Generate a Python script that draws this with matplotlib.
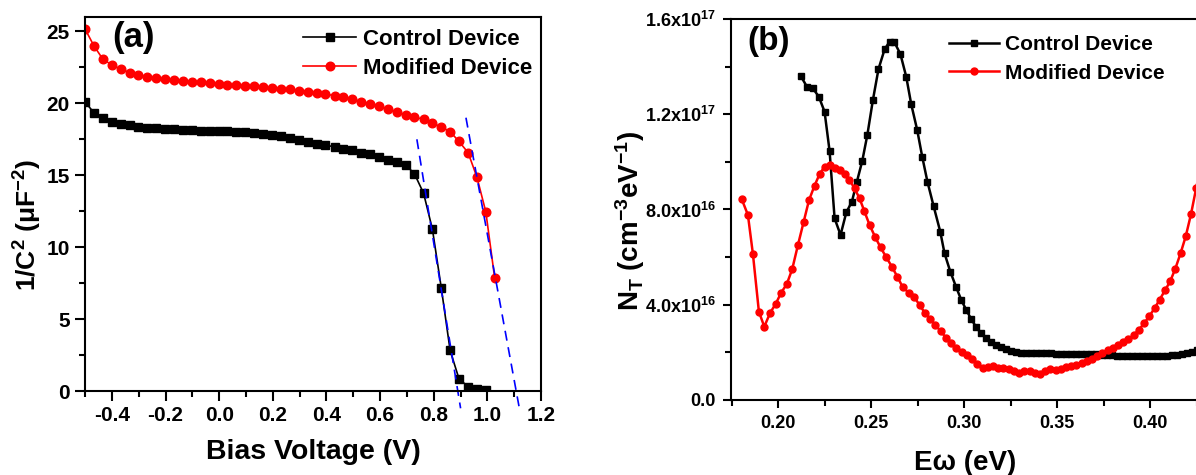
import matplotlib
matplotlib.use('Agg')
import matplotlib.pyplot as plt
from matplotlib.ticker import MultipleLocator

plt.rcParams['font.family'] = ['Liberation Sans', 'DejaVu Sans']
plt.rcParams['font.weight'] = 'bold'
plt.rcParams['axes.unicode_minus'] = False
plt.rcParams['mathtext.fontset'] = 'custom'
plt.rcParams['mathtext.rm'] = 'Liberation Sans:bold'
plt.rcParams['mathtext.it'] = 'Liberation Sans:bold'
plt.rcParams['mathtext.bf'] = 'Liberation Sans:bold'

# ---- panel (a): Mott-Schottky, 1/C^2 vs bias ----
bias_ctrl = [-0.500, -0.467, -0.434, -0.400, -0.367, -0.334, -0.301, -0.268, -0.234, -0.201,
             -0.168, -0.135, -0.102, -0.068, -0.035, -0.002, 0.031, 0.064, 0.098, 0.131,
             0.164, 0.197, 0.230, 0.264, 0.297, 0.330, 0.363, 0.396, 0.430, 0.463,
             0.496, 0.529, 0.562, 0.596, 0.629, 0.662, 0.695, 0.728, 0.762, 0.795,
             0.828, 0.861, 0.894, 0.928, 0.961, 0.994]
invc2_ctrl = [20.1, 19.35, 18.95, 18.72, 18.55, 18.46, 18.37, 18.3, 18.25, 18.23,
              18.18, 18.16, 18.13, 18.11, 18.09, 18.07, 18.05, 18.04, 18.02, 17.95,
              17.88, 17.81, 17.72, 17.6, 17.48, 17.34, 17.2, 17.1, 16.97, 16.85,
              16.74, 16.57, 16.46, 16.27, 16.08, 15.9, 15.73, 15.1, 13.75, 11.24,
              7.17, 2.82, 0.85, 0.3, 0.12, 0.04]

bias_mod = bias_ctrl + [1.027]
invc2_mod = [25.17, 24.0, 23.08, 22.66, 22.38, 22.14, 21.98, 21.86, 21.75, 21.68,
             21.63, 21.56, 21.49, 21.45, 21.4, 21.35, 21.28, 21.24, 21.21, 21.17,
             21.1, 21.05, 21.0, 20.98, 20.89, 20.82, 20.7, 20.63, 20.54, 20.42,
             20.3, 20.12, 19.95, 19.8, 19.6, 19.4, 19.2, 19.05, 18.88, 18.62,
             18.35, 18.03, 17.35, 16.57, 14.86, 12.46, 7.87]

# linear fits (end points)
fit_ctrl_x = [0.737, 0.900]
fit_ctrl_y = [17.5, -1.2]
fit_mod_x = [0.920, 1.122]
fit_mod_y = [19.0, -1.5]

# ---- panel (b): trap density of states ----
e_ctrl = [0.2121, 0.2155, 0.2187, 0.2219, 0.2250, 0.2277, 0.2304, 0.2336, 0.2367, 0.2397,
          0.2424, 0.2453, 0.2480, 0.2510, 0.2540, 0.2573, 0.2600, 0.2626, 0.2658, 0.2689,
          0.2716, 0.2748, 0.2775, 0.2803, 0.2836, 0.2872, 0.2895, 0.2926, 0.2958, 0.2985,
          0.3012, 0.3039, 0.3066, 0.3092, 0.3119, 0.3146, 0.3173, 0.3200, 0.3227, 0.3253,
          0.3280, 0.3307, 0.3334, 0.3361, 0.3388, 0.3415, 0.3442, 0.3469, 0.3496, 0.3523,
          0.3550, 0.3577, 0.3604, 0.3631, 0.3658, 0.3685, 0.3712, 0.3739, 0.3766, 0.3793,
          0.3820, 0.3847, 0.3874, 0.3901, 0.3928, 0.3955, 0.3982, 0.4009, 0.4036, 0.4063,
          0.4090, 0.4117, 0.4144, 0.4171, 0.4198, 0.4225, 0.4252, 0.4279]
nt_ctrl = [13.62, 13.16, 13.09, 12.74, 12.11, 10.46, 7.63, 6.93, 7.88, 8.33,
           9.17, 10.05, 11.13, 12.6, 13.9, 14.73, 15.05, 15.02, 14.52, 13.58,
           12.42, 11.34, 10.22, 9.17, 8.15, 7.07, 6.16, 5.39, 4.73, 4.2,
           3.78, 3.39, 3.05, 2.8, 2.59, 2.45, 2.31, 2.21, 2.13, 2.07,
           2.03, 1.99, 1.97, 1.97, 1.97, 1.96, 1.96, 1.96, 1.95, 1.95,
           1.95, 1.94, 1.94, 1.93, 1.93, 1.92, 1.92, 1.91, 1.90, 1.88,
           1.86, 1.85, 1.84, 1.83, 1.83, 1.83, 1.83, 1.84, 1.84, 1.85,
           1.86, 1.88, 1.90, 1.93, 1.97, 2.02, 2.08, 2.13]  # x1e16

e_mod = [0.1805, 0.1838, 0.1865, 0.1897, 0.1926, 0.1958, 0.1987, 0.2017, 0.2047, 0.2076,
         0.2107, 0.2137, 0.2166, 0.2196, 0.2223, 0.2250, 0.2277, 0.2304, 0.2331, 0.2358,
         0.2384, 0.2411, 0.2438, 0.2463, 0.2492, 0.2523, 0.2551, 0.2582, 0.2612, 0.2641,
         0.2671, 0.2702, 0.2730, 0.2761, 0.2790, 0.2818, 0.2846, 0.2875, 0.2903, 0.2931,
         0.2959, 0.2988, 0.3016, 0.3044, 0.3072, 0.3100, 0.3128, 0.3156, 0.3184, 0.3212,
         0.3240, 0.3268, 0.3296, 0.3324, 0.3352, 0.3380, 0.3408, 0.3436, 0.3464, 0.3492,
         0.3520, 0.3548, 0.3576, 0.3604, 0.3632, 0.3660, 0.3688, 0.3716, 0.3744, 0.3772,
         0.3800, 0.3828, 0.3856, 0.3884, 0.3912, 0.3940, 0.3968, 0.3996, 0.4024, 0.4052,
         0.4080, 0.4108, 0.4136, 0.4164, 0.4192, 0.4220, 0.4248, 0.4276]
nt_mod = [8.43, 7.77, 6.12, 3.71, 3.08, 3.67, 4.03, 4.51, 4.87, 5.49,
          6.51, 7.46, 8.38, 9.0, 9.48, 9.8, 9.87, 9.76, 9.66, 9.48,
          9.24, 8.89, 8.47, 7.95, 7.35, 6.83, 6.41, 5.99, 5.6, 5.18,
          4.73, 4.51, 4.34, 3.99, 3.65, 3.42, 3.15, 2.88, 2.62, 2.38,
          2.17, 2.02, 1.87, 1.72, 1.52, 1.35, 1.40, 1.42, 1.35, 1.33,
          1.30, 1.22, 1.15, 1.20, 1.21, 1.13, 1.08, 1.22, 1.30, 1.28,
          1.32, 1.37, 1.42, 1.47, 1.55, 1.63, 1.72, 1.83, 1.97, 2.09,
          2.20, 2.31, 2.42, 2.56, 2.72, 2.95, 3.22, 3.52, 3.85, 4.22,
          4.60, 4.98, 5.52, 6.16, 6.88, 7.80, 8.90, 9.95]  # x1e16

nt_ticks = [0, 4e16, 8e16, 1.2e17, 1.6e17]
nt_ticklabels = ['0.0', '4.0x10$^{16}$', '8.0x10$^{16}$', '1.2x10$^{17}$', '1.6x10$^{17}$']

fig = plt.figure(figsize=(11.96, 4.75), dpi=100)
ax1 = fig.add_axes([0.0711, 0.1768, 0.3813, 0.7874])
ax2 = fig.add_axes([0.6112, 0.1579, 0.4126, 0.8021])

# panel a
ax1.plot(bias_ctrl, invc2_ctrl, '-s', color='black', lw=1.2, ms=5.5, label='Control Device')
ax1.plot(bias_mod, invc2_mod, '-o', color='red', lw=1.2, ms=6.2, label='Modified Device')
ax1.plot(fit_ctrl_x, fit_ctrl_y, '--', color='blue', lw=1.2, dashes=(6, 4), clip_on=False)
ax1.plot(fit_mod_x, fit_mod_y, '--', color='blue', lw=1.2, dashes=(6, 4), clip_on=False)
ax1.set_xlim(-0.5, 1.2)
ax1.set_ylim(0, 26)
ax1.xaxis.set_minor_locator(MultipleLocator(0.1))
ax1.yaxis.set_major_locator(MultipleLocator(5))
ax1.yaxis.set_minor_locator(MultipleLocator(2.5))
ax1.set_xticks([-0.4, -0.2, 0.0, 0.2, 0.4, 0.6, 0.8, 1.0, 1.2])
ax1.tick_params(which='major', direction='out', length=7, width=1.5, labelsize=15, pad=4)
ax1.tick_params(which='minor', direction='out', length=4, width=1.5)
ax1.set_xlabel('Bias Voltage (V)', fontsize=20.5, fontweight='bold')
ax1.set_ylabel('1/C$^{2}$ (μF$^{-2}$)', fontsize=19, fontweight='bold')
ax1.xaxis.label.set_va('center')
ax1.yaxis.label.set_va('center')
ax1.xaxis.set_label_coords(0.5, -0.163)
ax1.yaxis.set_label_coords(-0.125, 0.444)
ax1.text(0.059, 0.945, '(a)', transform=ax1.transAxes, fontsize=25, fontweight='bold', va='center')
ax1.legend(loc='upper left', bbox_to_anchor=(0.478, 0.969), frameon=False, fontsize=16,
           handlelength=2.4, handletextpad=0.3, labelspacing=0.39, borderpad=0, borderaxespad=0)

# panel b
ax2.plot(e_ctrl, [v * 1e16 for v in nt_ctrl], '-s', color='black', lw=1.8, ms=4.3, label='Control Device')
ax2.plot(e_mod, [v * 1e16 for v in nt_mod], '-o', color='red', lw=1.8, ms=5.0, label='Modified Device')
ax2.set_xlim(0.1747, 0.44)
ax2.set_ylim(0, 1.6e17)
ax2.set_xticks([0.20, 0.25, 0.30, 0.35, 0.40])
ax2.set_xticklabels(['0.20', '0.25', '0.30', '0.35', '0.40'])
ax2.xaxis.set_minor_locator(MultipleLocator(0.025))
ax2.set_yticks(nt_ticks)
ax2.set_yticklabels(nt_ticklabels)
ax2.yaxis.set_minor_locator(MultipleLocator(2e16))
ax2.tick_params(which='major', direction='out', length=6, width=1.5, labelsize=13, pad=5)
ax2.tick_params(which='minor', direction='out', length=4, width=1.5)
ax2.set_xlabel('Eω (eV)', fontsize=20, fontweight='bold')
ax2.set_ylabel('N$_{T}$ (cm$^{-3}$eV$^{-1}$)', fontsize=20, fontweight='bold')
ax2.xaxis.label.set_va('center')
ax2.yaxis.label.set_va('center')
ax2.xaxis.set_label_coords(0.474, -0.165)
ax2.yaxis.set_label_coords(-0.205, 0.47)
ax2.text(0.034, 0.94, '(b)', transform=ax2.transAxes, fontsize=24, fontweight='bold', va='center')
ax2.legend(loc='upper left', bbox_to_anchor=(0.442, 0.957), frameon=False, fontsize=15,
           handlelength=2.4, handletextpad=0.3, labelspacing=0.44, borderpad=0, borderaxespad=0)

for ax in (ax1, ax2):
    for s in ax.spines.values():
        s.set_linewidth(1.5)
    for lab in ax.get_xticklabels() + ax.get_yticklabels():
        lab.set_fontweight('bold')

fig.savefig('out.png', dpi=100)
